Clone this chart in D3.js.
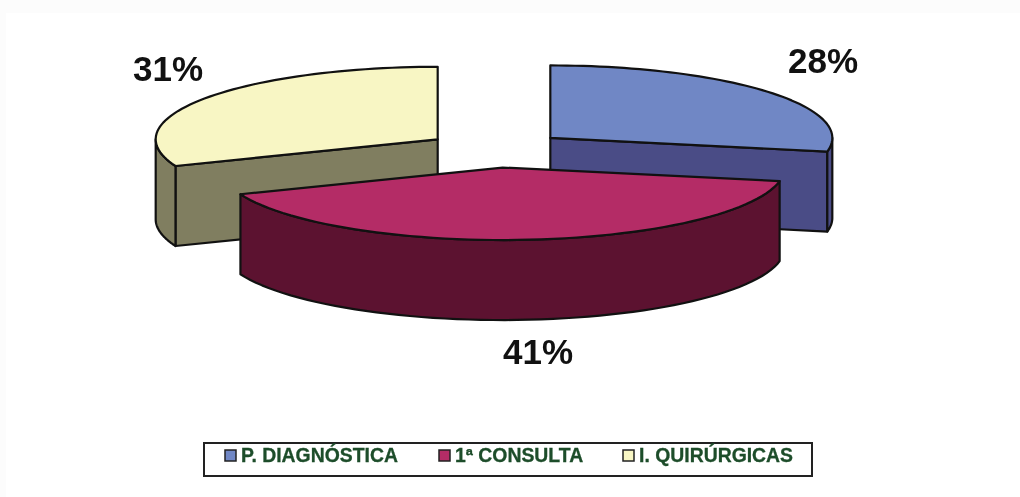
<!DOCTYPE html>
<html>
<head>
<meta charset="utf-8">
<script src="https://cdn.jsdelivr.net/npm/d3@7"></script>
<style>
  html, body { margin: 0; padding: 0; background: #fff; }
  svg { display: block; filter: blur(0.45px); }
  text { font-family: "Liberation Sans", Arial, sans-serif; font-weight: bold; }
</style>
</head>
<body>
<svg width="1020" height="497"></svg>
<script>
// values, clockwise from 12 o'clock
const categories = ["P. DIAGNÓSTICA", "1ª CONSULTA", "I. QUIRÚRGICAS"];
const percents = [28, 41, 31];
const topColors = ["#7087c5", "#b42c66", "#f8f6c4"];
const sideColors = ["#4a4c86", "#5c1230", "#807e60"];

const width = 1020, height = 497;
const cx = 496, cy = 149.5, rx = 282, ry = 72.5, depth = 80, explode = 0.25;
const outline = "#111";

const svg = d3.select("svg");

// the scan has a faint grey edge along the top and left
svg.append("rect").attr("width", width).attr("height", height).attr("fill", "#fcfcfc");
svg.append("rect").attr("x", 6).attr("y", 13).attr("width", width).attr("height", height).attr("fill", "#fff");

const x = d3.scaleLinear().domain([-1, 1]).range([cx - rx, cx + rx]);
const y = d3.scaleLinear().domain([-1, 1]).range([cy - ry, cy + ry]);

const slices = d3.pie().sort(null).value(d => d)(percents).map((s, i) => {
  const mid = (s.startAngle + s.endAngle) / 2;
  return { ...s, i, ox: explode * Math.sin(mid), oy: -explode * Math.cos(mid) };
});

// point on a tilted slice, a = angle clockwise from top, dz = drop in px
const pt = (s, a, r = 1, dz = 0) => [
  x(s.ox + r * Math.sin(a)),
  y(s.oy - r * Math.cos(a)) + dz
];
const arcPts = (s, a0, a1, dz = 0) =>
  d3.range(0, 61).map(k => pt(s, a0 + (a1 - a0) * k / 60, 1, dz));

const line = d3.line();
const closed = pts => line(pts) + "Z";

// yellow and blue sit behind the crimson one
const order = [2, 0, 1];
const g = svg.selectAll("g.slice")
  .data(order.map(i => slices[i]))
  .join("g")
  .attr("class", "slice")
  .attr("stroke", outline)
  .attr("stroke-width", 2.2)
  .attr("stroke-linejoin", "round");

g.each(function (s) {
  const el = d3.select(this);
  const side = sideColors[s.i];

  // radial wall that faces the viewer
  const cut = s.i === 0 ? s.endAngle : s.i === 2 ? s.startAngle : null;
  if (cut !== null) {
    el.append("path")
      .attr("fill", side)
      .attr("d", closed([pt(s, 0, 0), pt(s, cut), pt(s, cut, 1, depth), pt(s, 0, 0, depth)]));
  }

  // outer rim, only the part on the near half
  const a0 = Math.max(s.startAngle, Math.PI / 2);
  const a1 = Math.min(s.endAngle, Math.PI * 1.5);
  if (a1 > a0) {
    el.append("path")
      .attr("fill", side)
      .attr("d", closed(arcPts(s, a0, a1).concat(arcPts(s, a1, a0, depth))));
  }

  // top face
  el.append("path")
    .attr("fill", topColors[s.i])
    .attr("d", closed([pt(s, 0, 0), ...arcPts(s, s.startAngle, s.endAngle)]));
});

// percentage labels
const labelPos = [[823, 60], [538, 351], [168, 68]];
svg.selectAll("text.pct")
  .data(percents)
  .join("text")
  .attr("class", "pct")
  .attr("x", (d, i) => labelPos[i][0])
  .attr("y", (d, i) => labelPos[i][1])
  .attr("dy", "0.36em")
  .attr("text-anchor", "middle")
  .attr("font-size", 35)
  .attr("fill", "#111")
  .text(d => d + "%");

// legend
const legend = svg.append("g");
legend.append("rect")
  .attr("x", 204).attr("y", 443)
  .attr("width", 608).attr("height", 33)
  .attr("fill", "#fff")
  .attr("stroke", "#222")
  .attr("stroke-width", 2);

const legendX = [225, 439, 623];
const item = legend.selectAll("g")
  .data(categories)
  .join("g")
  .attr("transform", (d, i) => `translate(${legendX[i]},455)`);
item.append("rect")
  .attr("y", -5).attr("width", 11).attr("height", 11)
  .attr("fill", (d, i) => topColors[i])
  .attr("stroke", "#222")
  .attr("stroke-width", 1.5);
item.append("text")
  .attr("x", 16).attr("y", 7)
  .attr("font-size", 19.4)
  .attr("fill", "#1d4d2a")
  .attr("stroke", "#1d4d2a")
  .attr("stroke-width", 0.3)
  .text(d => d);
</script>
</body>
</html>
